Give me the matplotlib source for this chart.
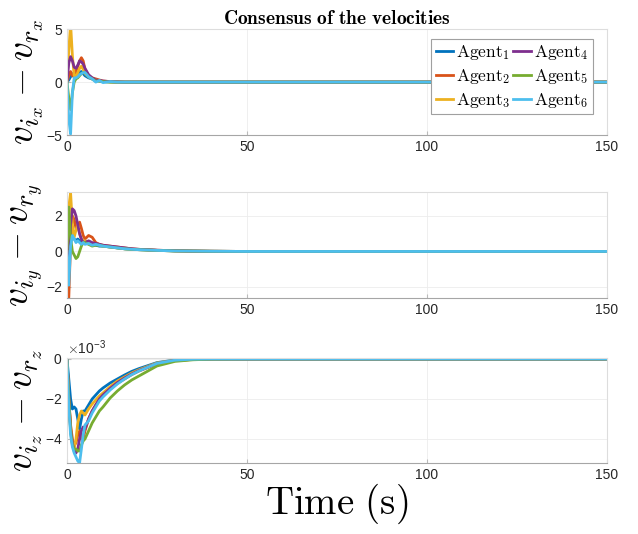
import matplotlib
matplotlib.use("Agg")
import matplotlib.pyplot as plt
import numpy as np

plt.rcParams['mathtext.fontset'] = 'cm'
plt.rcParams['font.family'] = 'Liberation Sans'

# time samples (s)
t = [0, 0.5, 1, 1.5, 2, 2.5, 3, 3.5, 4, 4.5, 5, 6, 7, 8, 9, 10, 12, 14, 16, 18, 20, 25, 30, 35, 40, 50, 150]

# x velocity error
vx1 = [0, 0.2, 0.5, 0.8, 0.7, 0.5, 0.7, 0.9, 1.0, 0.8, 0.6, 0.4, 0.3, 0.15, 0.1, 0.05, 0.02, 0, 0, 0, 0, 0, 0, 0, 0, 0, 0]
vx2 = [0, 0.6, 1.0, 0.6, 0.5, 1.0, 1.5, 2.0, 2.3, 2.0, 1.2, 0.6, 0.4, 0.3, 0.2, 0.1, 0.05, 0.02, 0, 0, 0, 0, 0, 0, 0, 0, 0]
vx3 = [0, 3.0, 5.5, 2.5, 0.6, 0.5, 0.9, 1.3, 1.5, 1.2, 0.8, 0.5, 0.3, 0.2, 0.1, 0.05, 0.02, 0, 0, 0, 0, 0, 0, 0, 0, 0, 0]
vx4 = [0, 1.8, 2.4, 2.0, 1.4, 1.3, 1.6, 2.0, 1.9, 1.7, 1.3, 0.7, 0.4, 0.2, 0.15, 0.1, 0.05, 0.02, 0, 0, 0, 0, 0, 0, 0, 0, 0]
vx5 = [0, -1.5, -2.6, -1.0, 0.0, 0.3, 0.4, 0.6, 0.8, 0.9, 0.9, 0.5, 0.3, 0.1, 0.1, 0.05, 0, 0, 0, 0, 0, 0, 0, 0, 0, 0, 0]
vx6 = [0, -3.5, -4.9, -1.0, 0.4, 0.4, 0.5, 0.7, 0.8, 0.9, 0.9, 0.5, 0.3, 0.0, 0.15, -0.05, 0.05, 0, 0, 0, 0, 0, 0, 0, 0, 0, 0]

# y velocity error
vy1 = [0, 0.3, 0.8, 0.9, 0.7, 0.6, 0.7, 0.6, 0.5, 0.55, 0.5, 0.45, 0.4, 0.35, 0.3, 0.3, 0.25, 0.2, 0.15, 0.12, 0.1, 0.06, 0.03, 0.02, 0.01, 0, 0]
vy2 = [0, -2.6, 0.5, 2.0, 1.8, 1.3, 1.4, 1.65, 1.3, 0.9, 0.7, 0.9, 0.8, 0.5, 0.4, 0.35, 0.3, 0.25, 0.2, 0.15, 0.12, 0.07, 0.04, 0.02, 0.01, 0, 0]
vy3 = [0, 2.5, 3.3, 1.5, 0.8, 1.2, 1.5, 1.0, 0.7, 0.6, 0.6, 0.5, 0.45, 0.4, 0.35, 0.3, 0.25, 0.2, 0.15, 0.12, 0.1, 0.06, 0.03, 0.02, 0.01, 0, 0]
vy4 = [0, -0.5, 1.5, 2.4, 2.3, 2.0, 1.5, 1.0, 0.7, 0.5, 0.5, 0.6, 0.5, 0.45, 0.4, 0.35, 0.3, 0.25, 0.2, 0.15, 0.12, 0.07, 0.04, 0.02, 0.01, 0, 0]
vy5 = [0, 2.5, 0.8, 0.0, -0.2, -0.4, -0.3, 0.0, 0.3, 0.5, 0.5, 0.4, 0.3, 0.35, 0.35, 0.3, 0.25, 0.2, 0.15, 0.12, 0.1, 0.06, 0.03, 0.02, 0.01, 0, 0]
vy6 = [0, -1.9, 0.3, 0.9, 0.7, 0.5, 0.6, 0.5, 0.4, 0.5, 0.4, 0.45, 0.35, 0.4, 0.35, 0.3, 0.25, 0.2, 0.15, 0.12, 0.1, 0.06, 0.03, 0.02, 0.01, 0, 0]

# z velocity error (x 1e-3)
vz1 = [0, -1.0, -2.0, -2.5, -2.4, -2.5, -3.0, -3.5, -3.0, -2.6, -2.6, -2.3, -2.0, -1.8, -1.6, -1.45, -1.2, -1.0, -0.8, -0.62, -0.48, -0.18, -0.05, -0.01, 0, 0, 0]
vz2 = [0, -2.0, -3.3, -4.0, -4.3, -4.2, -3.8, -3.6, -4.0, -4.0, -3.6, -3.0, -2.6, -2.3, -2.05, -1.85, -1.5, -1.22, -1.0, -0.78, -0.6, -0.25, -0.08, -0.02, 0, 0, 0]
vz3 = [0, -2.0, -3.4, -4.2, -4.5, -4.0, -3.2, -2.8, -2.6, -2.7, -2.8, -2.5, -2.25, -2.05, -1.85, -1.7, -1.38, -1.1, -0.9, -0.7, -0.54, -0.2, -0.06, -0.01, 0, 0, 0]
vz4 = [0, -2.0, -3.5, -4.2, -4.6, -4.7, -4.5, -4.0, -3.6, -3.4, -3.5, -3.0, -2.6, -2.3, -2.0, -1.8, -1.47, -1.18, -0.95, -0.75, -0.58, -0.23, -0.07, -0.02, 0, 0, 0]
vz5 = [0, -2.0, -3.6, -4.3, -4.5, -4.5, -4.6, -4.6, -4.3, -4.1, -4.0, -3.6, -3.2, -2.9, -2.6, -2.4, -1.95, -1.6, -1.3, -1.05, -0.85, -0.35, -0.12, -0.04, -0.01, 0, 0]
vz6 = [0, -2.4, -3.8, -4.4, -4.7, -4.9, -5.1, -5.2, -4.5, -3.8, -3.3, -3.1, -2.7, -2.4, -2.1, -1.9, -1.55, -1.25, -1.0, -0.78, -0.6, -0.22, -0.06, -0.01, 0, 0, 0]

labels = [r'$\mathrm{Agent}_1$', r'$\mathrm{Agent}_2$', r'$\mathrm{Agent}_3$',
          r'$\mathrm{Agent}_4$', r'$\mathrm{Agent}_5$', r'$\mathrm{Agent}_6$']
colors = ['#0072BD', '#D95319', '#EDB120', '#7E2F8E', '#77AC30', '#4DBEEE']

fig = plt.figure(figsize=(6.38, 5.34), dpi=100)
ax1 = fig.add_axes([0.105, 0.747, 0.846, 0.1985])
ax2 = fig.add_axes([0.105, 0.442, 0.846, 0.1985])
ax3 = fig.add_axes([0.105, 0.133, 0.846, 0.1966])

vx = [vx1, vx2, vx3, vx4, vx5, vx6]
vy = [vy1, vy2, vy3, vy4, vy5, vy6]
vz = [vz1, vz2, vz3, vz4, vz5, vz6]

for i in range(6):
    ax1.plot(t, vx[i], color=colors[i], lw=2, label=labels[i])
    ax2.plot(t, vy[i], color=colors[i], lw=2)
    ax3.plot(t, np.array(vz[i]) * 1e-3, color=colors[i], lw=2)

ax1.set_ylim(-5, 5)
ax1.set_yticks([-5, 0, 5])
ax2.set_ylim(-2.62, 3.35)
ax2.set_yticks([-2, 0, 2])
ax3.set_ylim(-5.2e-3, 0.05e-3)
ax3.set_yticks([-4e-3, -2e-3, 0])
ax3.ticklabel_format(axis='y', style='sci', scilimits=(0, 0), useMathText=True)
ax3.yaxis.get_offset_text().set_fontsize(10)
ax3.yaxis.get_offset_text().set_color('#262626')

for ax in [ax1, ax2, ax3]:
    ax.set_xlim(0, 150)
    ax.set_xticks([0, 50, 100, 150])
    ax.grid(True, color='#ececec', lw=0.6)
    ax.set_axisbelow(True)
    for s in ['top', 'right', 'left']:
        ax.spines[s].set_color('#dddddd')
    ax.spines['bottom'].set_color('#a6a6a6')
    ax.tick_params(direction='in', length=3, color='#bbbbbb', labelsize=10, labelcolor='#262626')

ax1.set_ylabel(r'$v_{i_x} - v_{r_x}$', fontsize=27, labelpad=0)
ax2.set_ylabel(r'$v_{i_y} - v_{r_y}$', fontsize=27, labelpad=0)
ax3.set_ylabel(r'$v_{i_z} - v_{r_z}$', fontsize=27, labelpad=0)
ax1.set_title(r'$\mathbf{Consensus\ of\ the\ velocities}$', fontsize=14, pad=4)
ax3.set_xlabel(r'$\mathrm{Time\ (s)}$', fontsize=28, labelpad=0)

leg = ax1.legend(ncol=2, loc='upper right', fontsize=12.5, fancybox=False, framealpha=1,
                 edgecolor='#a0a0a0', handlelength=1.0, handletextpad=0.2,
                 columnspacing=0.15, borderpad=0.25, labelspacing=0.28,
                 bbox_to_anchor=(0.99, 0.99))
leg.get_frame().set_linewidth(0.8)

fig.savefig('out.png', dpi=100)
